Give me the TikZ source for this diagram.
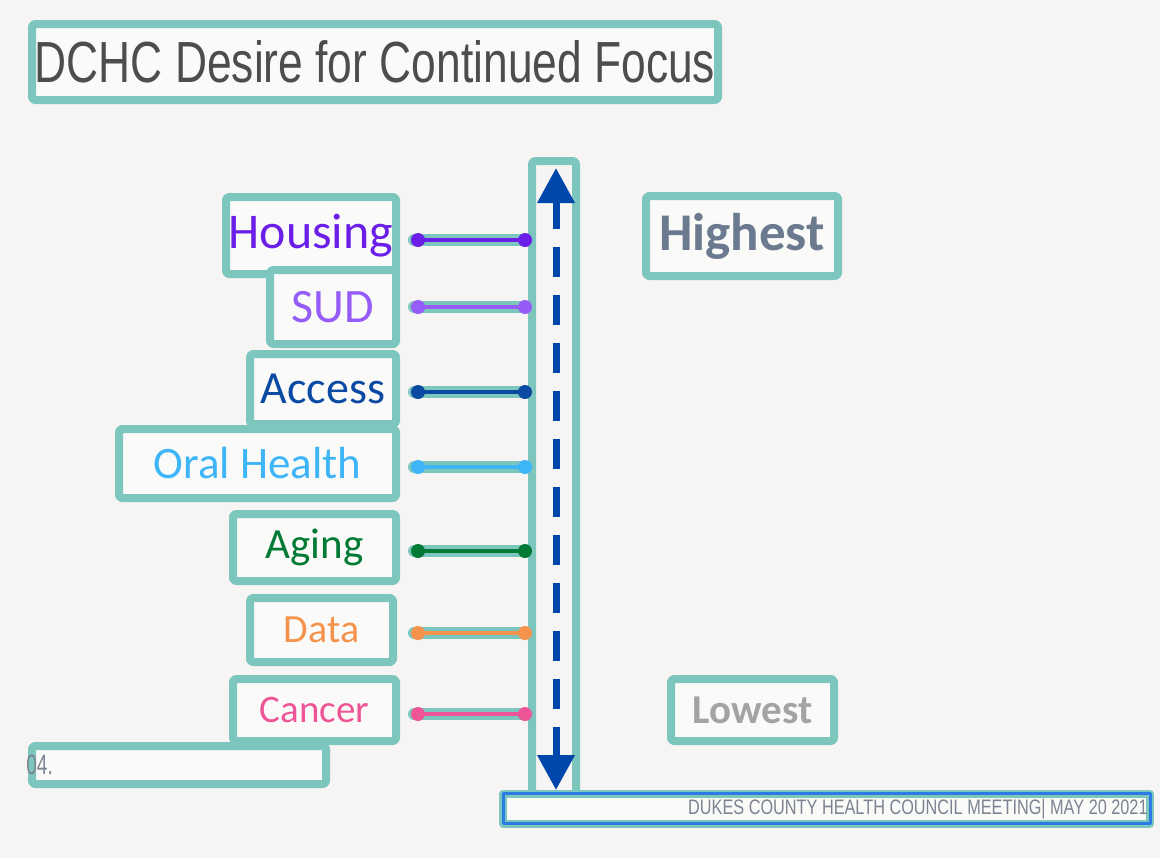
\documentclass[tikz,border=0pt]{standalone}
\usepackage{fontspec}
\usepackage{graphicx}
\setmainfont{Carlito}
\newfontfamily\arialf{Liberation Sans}
\usetikzlibrary{arrows.meta}
\definecolor{bgcol}{RGB}{246,245,243}
\definecolor{boxfill}{RGB}{250,250,249}
\definecolor{boxteal}{RGB}{124,198,190}
\definecolor{axisblue}{RGB}{0,71,171}
\definecolor{footblue}{RGB}{44,123,229}
\definecolor{titlecol}{RGB}{77,77,77}
\definecolor{housingcol}{RGB}{106,30,232}
\definecolor{sudcol}{RGB}{149,92,247}
\definecolor{accesscol}{RGB}{11,74,162}
\definecolor{oralcol}{RGB}{61,181,247}
\definecolor{agingcol}{RGB}{0,122,53}
\definecolor{datacol}{RGB}{245,146,75}
\definecolor{cancercol}{RGB}{238,85,150}
\definecolor{highcol}{RGB}{107,122,143}
\definecolor{lowcol}{RGB}{163,163,163}
\definecolor{footcol}{RGB}{124,131,145}
\tikzset{
  tbox/.style={draw=boxteal,line width=4pt,rounded corners=1.5pt,fill=boxfill,inner sep=0pt},
  halo/.style={draw=boxteal,line width=6pt,line cap=round,shorten <=-2pt,shorten >=-2.5pt},
  link/.style={draw=#1,line width=2pt},
  dot/.style={circle,fill=#1,inner sep=0pt,minimum size=7pt},
  axis/.style={draw=axisblue,line width=3.5pt,dash pattern=on 15pt off 9pt,
    {Triangle[width=18pt,length=17.5pt]}-{Triangle[width=18pt,length=17.5pt]}}
}
\begin{document}
\begin{tikzpicture}[x=0.5pt,y=-0.5pt,line join=round]
\fill[bgcol] (0,0) rectangle (1160,858);
\useasboundingbox (0,0) rectangle (1160,858);

\node[tbox,minimum width=343pt,minimum height=38pt] (title) at (375,62)
  {\arialf\fontsize{29pt}{34pt}\selectfont\color{titlecol}\scalebox{0.765}[1]{DCHC Desire for Continued Focus}};

% scale arrow
\node[tbox,fill=none,minimum width=22pt,minimum height=319pt] (axisbox) at (554,480) {};
\coordinate (uptip) at (556,168);
\coordinate (downtip) at (556,790);
\draw[axis] (downtip) -- (uptip);

% topic boxes
\node[tbox,minimum width=85pt,minimum height=38.5pt,text=housingcol,font=\fontsize{25pt}{30pt}\selectfont] (housing) at (311,235.5) {Housing};
\node[tbox,minimum width=63pt,minimum height=37pt,text=sudcol,font=\fontsize{24pt}{29pt}\selectfont] (sud) at (333,307) {SUD};
\node[tbox,minimum width=73pt,minimum height=35pt,text=accesscol,font=\fontsize{23pt}{28pt}\selectfont] (access) at (323,389) {Access};
\node[tbox,minimum width=138.5pt,minimum height=34.5pt,text=oralcol,font=\fontsize{22.5pt}{27pt}\selectfont] (oral) at (257.5,463.5) {Oral Health};
\node[tbox,minimum width=81.5pt,minimum height=33.5pt,text=agingcol,font=\fontsize{21.5pt}{26pt}\selectfont] (aging) at (314.5,547.5) {Aging};
\node[tbox,minimum width=71.5pt,minimum height=32pt,text=datacol,font=\fontsize{20pt}{24pt}\selectfont] (data) at (321.5,630) {Data};
\node[tbox,minimum width=81.5pt,minimum height=31pt,text=cancercol,font=\fontsize{19.5pt}{23pt}\selectfont] (cancer) at (314.5,710) {Cancer};

% connectors
\coordinate (housing-a) at (418,240);  \coordinate (housing-b) at (525,240);
\coordinate (sud-a) at (418,307);      \coordinate (sud-b) at (525,307);
\coordinate (access-a) at (418,392);   \coordinate (access-b) at (525,392);
\coordinate (oral-a) at (418,467);     \coordinate (oral-b) at (525,467);
\coordinate (aging-a) at (418,551);    \coordinate (aging-b) at (525,551);
\coordinate (data-a) at (418,633);     \coordinate (data-b) at (525,633);
\coordinate (cancer-a) at (418,714);   \coordinate (cancer-b) at (525,714);
\draw[halo] (housing-a) -- (housing-b);
\draw[halo] (sud-a) -- (sud-b);
\draw[halo] (access-a) -- (access-b);
\draw[halo] (oral-a) -- (oral-b);
\draw[halo] (aging-a) -- (aging-b);
\draw[halo] (data-a) -- (data-b);
\draw[halo] (cancer-a) -- (cancer-b);
\draw[link=housingcol] (housing-a) -- (housing-b);
\draw[link=sudcol] (sud-a) -- (sud-b);
\draw[link=accesscol] (access-a) -- (access-b);
\draw[link=oralcol] (oral-a) -- (oral-b);
\draw[link=agingcol] (aging-a) -- (aging-b);
\draw[link=datacol] (data-a) -- (data-b);
\draw[link=cancercol] (cancer-a) -- (cancer-b);
\node[dot=housingcol] (housing-l) at (housing-a) {}; \node[dot=housingcol] (housing-r) at (housing-b) {};
\node[dot=sudcol] (sud-l) at (sud-a) {}; \node[dot=sudcol] (sud-r) at (sud-b) {};
\node[dot=accesscol] (access-l) at (access-a) {}; \node[dot=accesscol] (access-r) at (access-b) {};
\node[dot=oralcol] (oral-l) at (oral-a) {}; \node[dot=oralcol] (oral-r) at (oral-b) {};
\node[dot=agingcol] (aging-l) at (aging-a) {}; \node[dot=agingcol] (aging-r) at (aging-b) {};
\node[dot=datacol] (data-l) at (data-a) {}; \node[dot=datacol] (data-r) at (data-b) {};
\node[dot=cancercol] (cancer-l) at (cancer-a) {}; \node[dot=cancercol] (cancer-r) at (cancer-b) {};

\node[tbox,minimum width=96pt,minimum height=40pt,text=highcol,font=\bfseries\fontsize{26.5pt}{30pt}\selectfont] (highest) at (742,236) {Highest};
\node[tbox,minimum width=81.5pt,minimum height=31pt,text=lowcol,font=\bfseries\fontsize{20.5pt}{24pt}\selectfont] (lowest) at (752.5,710) {Lowest};

\node[tbox,minimum width=147pt,minimum height=19pt] (pageno) at (179,765) {};
\node[anchor=west,inner sep=0pt,text=footcol,font=\arialf\fontsize{14pt}{16pt}\selectfont] (pagetxt) at ([xshift=-1pt]pageno.west) {\scalebox{0.68}[1]{04.}};

\node[draw=boxteal,fill=boxfill,line width=4pt,outer sep=0pt,minimum width=323.5pt,minimum height=15pt,inner sep=0pt] (footer) at (826.5,808.5) {};
\draw[footblue,line width=1.5pt] (footer.south west) rectangle (footer.north east);
\node[anchor=east,inner sep=0pt,text=footcol,font=\arialf\fontsize{10.5pt}{12pt}\selectfont] (foottxt) at ([xshift=-1pt,yshift=-0.5pt]footer.east) {\scalebox{0.775}[1]{DUKES COUNTY HEALTH COUNCIL MEETING| MAY 20 2021}};
\end{tikzpicture}
\end{document}
